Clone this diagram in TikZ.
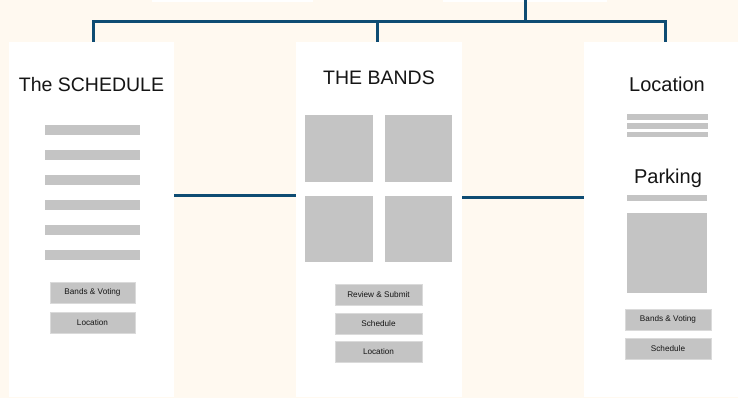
\documentclass[tikz,border=0pt]{standalone}
\usepackage{fontspec}
\setmainfont{Liberation Sans}
\definecolor{cream}{HTML}{FFF9F0}
\definecolor{linkblue}{HTML}{0E4C73}
\definecolor{ph}{HTML}{C4C4C4}
\definecolor{phedge}{HTML}{DADADA}
\definecolor{ink}{HTML}{151515}
\tikzset{
  panel/.style={fill=white, draw=none, inner sep=0pt, outer sep=0pt, anchor=north west},
  conn/.style={draw=linkblue, line width=3pt},
  bar/.style={fill=ph, draw=none},
  btn/.style={fill=ph, draw=phedge, line width=0.8pt, inner sep=0pt, outer sep=0pt,
    font=\fontsize{8.2}{9}\selectfont, text=ink},
  title/.style={anchor=base, inner sep=0pt, text=ink},
}
\begin{document}
\begin{tikzpicture}[x=1pt,y=-1pt]
\fill[cream] (0,0) rectangle (738,398);
\useasboundingbox (0,0) rectangle (738,398);
% faint white strips at the top edge
\fill[white] (152,0) rectangle (313,2);
\fill[white] (443,0) rectangle (607,2);

% panels
\node[panel, minimum width=165pt, minimum height=355pt] (sched) at (9,42) {};
\node[panel, minimum width=166pt, minimum height=355pt] (bands) at (296,42) {};
\node[panel, minimum width=154pt, minimum height=355pt] (loc) at (584,42) {};

% connectors
\coordinate (top) at (525,0);
\coordinate (bus) at (525,22);
\draw[conn] (top) -- (bus);
\draw[conn] ([xshift=1.5pt]sched.north) |- (bus) -| ([xshift=4pt]loc.north);
\draw[conn] ([xshift=-2pt]bands.north) -- ([xshift=-2pt]bands.north |- bus);
\draw[conn] (sched.east |- 0,195) -- (bands.west |- 0,195);
\draw[conn] (bands.east |- 0,197) -- (loc.west |- 0,197);

% ---- The SCHEDULE panel
\node[title, font=\fontsize{19.5}{23}\selectfont] (t1) at (91.5,92) {The SCHEDULE};
\foreach \y in {125,150,175,200,225,250}{
  \fill[bar] (45,\y) rectangle (140,\y+10);
}
\node[btn, minimum width=85pt, minimum height=21pt] (s1) at (92.5,292.5) {Bands \& Voting};
\node[btn, minimum width=85pt, minimum height=21pt] (s2) at (92.5,322.5) {Location};

% ---- THE BANDS panel
\node[title, font=\fontsize{19.5}{23}\selectfont] (t2) at (379,85) {THE BANDS};
\fill[bar] (305,115) rectangle (373,182);
\fill[bar] (385,115) rectangle (452,182);
\fill[bar] (305,196) rectangle (373,262);
\fill[bar] (385,196) rectangle (452,262);
\node[btn, minimum width=87pt, minimum height=21pt] (m1) at (378.5,294.5) {Review \& Submit};
\node[btn, minimum width=87pt, minimum height=21pt] (m2) at (378.5,323.5) {Schedule};
\node[btn, minimum width=87pt, minimum height=21pt] (m3) at (378.5,351.5) {Location};

% ---- Location / Parking panel
\node[title, font=\fontsize{20}{24}\selectfont] (t3) at (667,92) {Location};
\fill[bar] (627,114) rectangle (708,120);
\fill[bar] (627,123) rectangle (708,129);
\fill[bar] (627,132) rectangle (708,137.5);
\node[title, font=\fontsize{20}{24}\selectfont] (t4) at (668,183) {Parking};
\fill[bar] (627,195) rectangle (707,201);
\fill[bar] (627,213) rectangle (707,293);
\node[btn, minimum width=86pt, minimum height=21pt] (r1) at (668,319.5) {Bands \& Voting};
\node[btn, minimum width=86pt, minimum height=21pt] (r2) at (668,349) {Schedule};
\end{tikzpicture}
\end{document}
